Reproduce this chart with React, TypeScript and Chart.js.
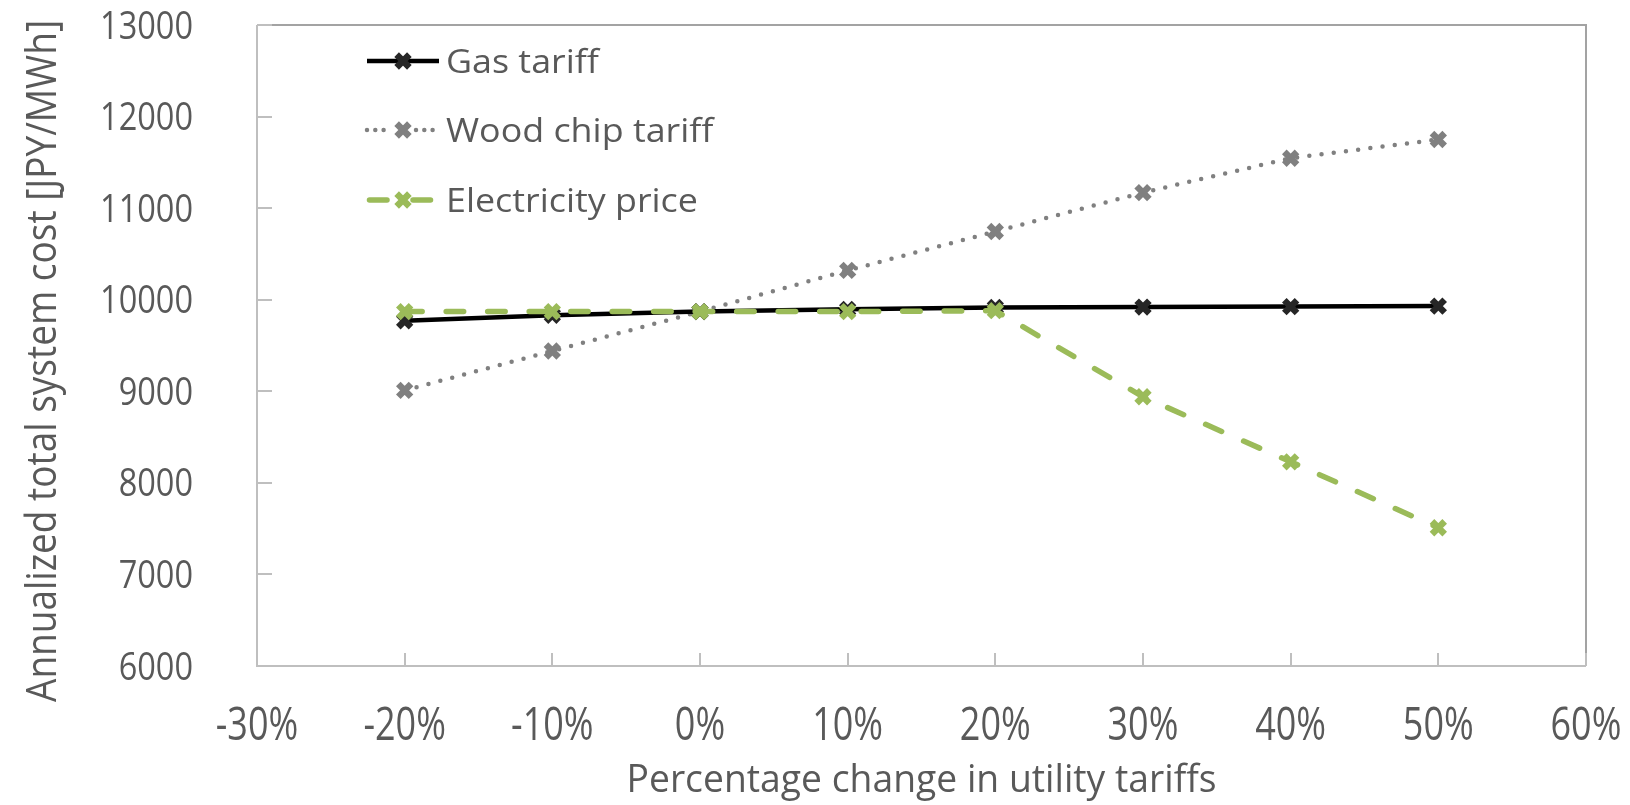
import React, { useEffect, useRef } from 'react';
import { Chart, registerables } from 'chart.js';
import { drawPoint } from 'chart.js/helpers';

Chart.register(...registerables);

// Percentage change applied to each utility tariff
const pctChange = [-20, -10, 0, 10, 20, 30, 40, 50];

// Annualized total system cost [JPY/MWh] per scenario
const gasTariff = [9770, 9830, 9870, 9895, 9915, 9920, 9925, 9930];
const woodChipTariff = [9010, 9440, 9870, 10320, 10745, 11170, 11545, 11750];
const electricityPrice = [9870, 9870, 9870, 9870, 9880, 8940, 8230, 7510];

const seriesNames = ['Gas tariff', 'Wood chip tariff', 'Electricity price'];

const xMin = -30;
const xMax = 60;
const xStep = 10;
const yMin = 6000;
const yMax = 13000;
const yStep = 1000;

const xTitle = 'Percentage change in utility tariffs';
const yTitle = 'Annualized total system cost [JPY/MWh]';

const FONT = "'Open Sans', 'Noto Sans', sans-serif";
const TEXT_COLOR = '#595959';

const toPoints = (ys: number[]) => pctChange.map((x, i) => ({ x, y: ys[i] }));

// Draws text squeezed or stretched horizontally by sx
function drawText(
  ctx: CanvasRenderingContext2D,
  text: string,
  x: number,
  y: number,
  size: number,
  sx: number,
  align: CanvasTextAlign,
  rotate = false,
) {
  ctx.save();
  ctx.translate(x, y);
  if (rotate) ctx.rotate(-Math.PI / 2);
  ctx.scale(sx, 1);
  ctx.font = `${size}px ${FONT}`;
  ctx.fillStyle = TEXT_COLOR;
  ctx.textAlign = align;
  ctx.textBaseline = 'alphabetic';
  ctx.fillText(text, 0, 0);
  ctx.restore();
}

function fitScale(ctx: CanvasRenderingContext2D, text: string, size: number, width: number) {
  ctx.save();
  ctx.font = `${size}px ${FONT}`;
  const w = ctx.measureText(text).width;
  ctx.restore();
  return w > 0 ? width / w : 1;
}

const decorPlugin = {
  id: 'decor',
  beforeDatasetsDraw(chart: any) {
    const { ctx, chartArea: a, scales } = chart;
    ctx.save();
    ctx.lineWidth = 2;
    ctx.strokeStyle = '#a3a3a3';
    ctx.beginPath();
    ctx.moveTo(a.left, a.top);
    ctx.lineTo(a.right, a.top);
    ctx.lineTo(a.right, a.bottom);
    ctx.stroke();

    ctx.strokeStyle = '#bfbfbf';
    ctx.beginPath();
    ctx.moveTo(a.left, a.top);
    ctx.lineTo(a.left, a.bottom);
    ctx.lineTo(a.right, a.bottom);
    // inward tick marks
    scales.y.ticks.forEach((t: any) => {
      const py = Math.round(scales.y.getPixelForValue(t.value));
      ctx.moveTo(a.left, py);
      ctx.lineTo(a.left + 15, py);
    });
    scales.x.ticks.forEach((t: any) => {
      const px = Math.round(scales.x.getPixelForValue(t.value));
      ctx.moveTo(px, a.bottom);
      ctx.lineTo(px, a.bottom - 13);
    });
    ctx.stroke();
    ctx.restore();
  },
  afterDraw(chart: any) {
    const { ctx, chartArea: a, scales } = chart;

    // y tick labels
    scales.y.ticks.forEach((t: any) => {
      const py = scales.y.getPixelForValue(t.value);
      drawText(ctx, String(t.value), 193, py + 13.5, 38, 0.855, 'right');
    });
    // x tick labels
    scales.x.ticks.forEach((t: any) => {
      const px = scales.x.getPixelForValue(t.value);
      drawText(ctx, `${t.value}%`, px, 740, 45, 0.8, 'center');
    });

    // axis titles
    const sxX = fitScale(ctx, xTitle, 39, 590);
    drawText(ctx, xTitle, (a.left + a.right) / 2, 792, 39, sxX, 'center');
    const sxY = fitScale(ctx, yTitle, 42, 682);
    drawText(ctx, yTitle, 56, 361, 42, sxY, 'center', true);

    // legend
    const rows = [61, 130, 200];
    chart.data.datasets.forEach((ds: any, i: number) => {
      const y = rows[i];
      ctx.save();
      ctx.strokeStyle = ds.borderColor;
      ctx.lineWidth = ds.borderWidth;
      ctx.lineCap = ds.borderCapStyle || 'butt';
      if (!ds.borderDash) {
        ctx.beginPath();
        ctx.moveTo(367, y);
        ctx.lineTo(439, y);
        ctx.stroke();
      } else {
        ctx.setLineDash(ds.legendDash);
        const segs = ds.legendSegs;
        segs.forEach((s: number[]) => {
          ctx.beginPath();
          ctx.moveTo(s[0], y);
          ctx.lineTo(s[1], y);
          ctx.stroke();
        });
      }
      ctx.setLineDash([]);
      ctx.lineCap = 'butt';
      ctx.strokeStyle = ds.pointBorderColor;
      ctx.fillStyle = ds.pointBorderColor;
      ctx.lineWidth = ds.pointBorderWidth;
      drawPoint(ctx, { pointStyle: 'crossRot', radius: ds.pointRadius, borderWidth: ds.pointBorderWidth, rotation: 0 } as any, 403, y);
      ctx.restore();
      drawText(ctx, ds.label, 446, y + 12, 32, 1.12, 'left');
    });
  },
};

export default function App() {
  const ref = useRef<HTMLCanvasElement>(null);

  useEffect(() => {
    if (!ref.current) return;
    const chart = new Chart(ref.current, {
      type: 'line',
      data: {
        datasets: [
          {
            label: seriesNames[0],
            data: toPoints(gasTariff),
            borderColor: '#000000',
            borderWidth: 4.5,
            pointStyle: 'crossRot',
            pointRadius: 9,
            pointBorderWidth: 6.5,
            pointBorderColor: '#262626',
            pointBackgroundColor: '#262626',
            tension: 0,
            order: 1,
          } as any,
          {
            label: seriesNames[1],
            data: toPoints(woodChipTariff),
            borderColor: '#808080',
            borderWidth: 4.5,
            borderDash: [0, 12.3],
            borderCapStyle: 'round',
            legendDash: [0, 8.3],
            legendSegs: [[367, 388], [416, 434]],
            pointStyle: 'crossRot',
            pointRadius: 9,
            pointBorderWidth: 6.5,
            pointBorderColor: '#808080',
            pointBackgroundColor: '#808080',
            tension: 0,
            order: 2,
          } as any,
          {
            label: seriesNames[2],
            data: toPoints(electricityPrice),
            borderColor: '#9bbb59',
            borderWidth: 5.5,
            borderDash: [17.5, 24],
            borderCapStyle: 'round',
            legendDash: [17.5, 24],
            legendSegs: [[369.5, 390], [413, 437]],
            pointStyle: 'crossRot',
            pointRadius: 9,
            pointBorderWidth: 6.5,
            pointBorderColor: '#9bbb59',
            pointBackgroundColor: '#9bbb59',
            tension: 0,
            order: 0,
          } as any,
        ],
      },
      options: {
        responsive: false,
        animation: false,
        devicePixelRatio: 1,
        layout: { padding: { left: 0, top: 25, right: 44, bottom: 0 } },
        plugins: {
          legend: { display: false },
          tooltip: { enabled: false },
        },
        scales: {
          x: {
            type: 'linear',
            min: xMin,
            max: xMax,
            ticks: { stepSize: xStep, display: false },
            grid: { display: false, drawTicks: false },
            border: { display: false },
            afterFit: (s: any) => {
              s.height = 139;
            },
          },
          y: {
            type: 'linear',
            min: yMin,
            max: yMax,
            ticks: { stepSize: yStep, display: false },
            grid: { display: false, drawTicks: false },
            border: { display: false },
            afterFit: (s: any) => {
              s.width = 257;
            },
          },
        },
      } as any,
      plugins: [decorPlugin],
    });
    return () => chart.destroy();
  }, []);

  return (
    <div style={{ position: 'fixed', left: 0, top: 0, width: 1630, height: 805, background: '#ffffff' }}>
      <canvas ref={ref} width={1630} height={805} style={{ display: 'block', width: 1630, height: 805 }} />
    </div>
  );
}
